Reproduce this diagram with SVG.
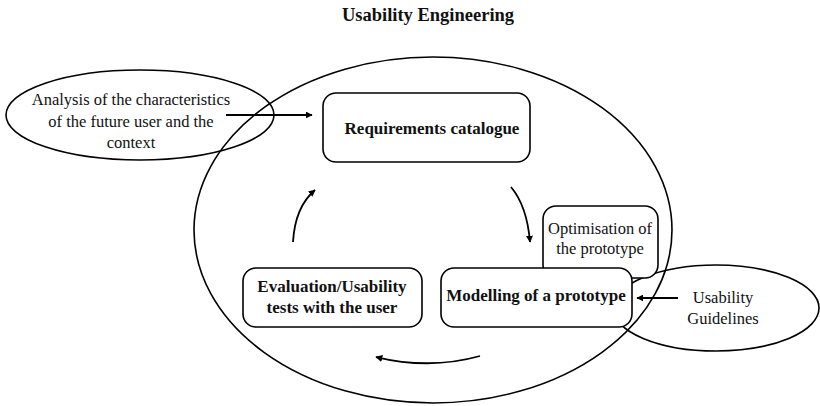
<svg xmlns="http://www.w3.org/2000/svg" width="820" height="406" viewBox="0 0 820 406">
  <style>
    .shape { fill: #ffffff; stroke: #000000; stroke-width: 1.6; }
    .outline { fill: none; stroke: #000000; stroke-width: 1.6; }
    .label { font-family: "Liberation Serif", "DejaVu Serif", serif; font-size: 16.5px; fill: #111111; text-anchor: middle; }
    .bold { font-weight: bold; font-size: 17px; }
    .link { fill: none; stroke: #000000; stroke-width: 1.8; }
  </style>
  <defs>
    <marker id="head" viewBox="0 0 10 10" refX="9" refY="5" markerWidth="7" markerHeight="7" markerUnits="userSpaceOnUse" orient="auto">
      <path d="M0,0 L10,5 L0,10 Z" fill="#000000"/>
    </marker>
    <clipPath id="overlap">
      <ellipse cx="140" cy="115" rx="134" ry="45"/>
    </clipPath>
    <clipPath id="overlap2">
      <ellipse cx="716" cy="308" rx="103" ry="43"/>
    </clipPath>
  </defs>

  <rect width="820" height="406" fill="#ffffff"/>

  <text class="label bold" x="428" y="21" style="font-size:18.5px">Usability Engineering</text>

  <!-- outer process ellipse -->
  <g id="usability-engineering">
    <ellipse class="outline" cx="433" cy="230" rx="239" ry="173"/>
  </g>

  <!-- user and context analysis -->
  <g id="analysis">
    <ellipse class="shape" cx="140" cy="115" rx="134" ry="45"/>
    <text class="label" x="131" y="105">Analysis of the characteristics</text>
    <text class="label" x="131" y="127">of the future user and the</text>
    <text class="label" x="131" y="148">context</text>
  </g>
  <!-- redraw the part of the outer ellipse that crosses the analysis ellipse -->
  <path class="outline" d="M194,230 A239,173 0 0 1 433,57" clip-path="url(#overlap)"/>

  <!-- usability guidelines -->
  <g id="guidelines">
    <ellipse class="shape" cx="716" cy="308" rx="103" ry="43"/>
    <text class="label" x="723" y="303">Usability</text>
    <text class="label" x="723" y="324">Guidelines</text>
  </g>
  <path class="outline" d="M672,230 A239,173 0 0 1 433,403" clip-path="url(#overlap2)"/>

  <g id="requirements">
    <rect class="shape" x="323" y="93" width="207" height="69" rx="13"/>
    <text class="label bold" x="432" y="134">Requirements catalogue</text>
  </g>

  <g id="optimisation">
    <rect class="shape" x="543" y="206" width="115" height="72" rx="13"/>
    <text class="label" x="600" y="234">Optimisation of</text>
    <text class="label" x="600" y="254">the prototype</text>
  </g>

  <g id="modelling">
    <rect class="shape" x="441" y="268" width="191" height="59" rx="13"/>
    <text class="label bold" x="536" y="301">Modelling of a prototype</text>
  </g>

  <g id="evaluation">
    <rect class="shape" x="243" y="268" width="179" height="59" rx="13"/>
    <text class="label bold" x="332" y="292">Evaluation/Usability</text>
    <text class="label bold" x="332" y="313">tests with the user</text>
  </g>

  <g id="connectors">
    <path class="link" d="M226,115 L312,115" marker-end="url(#head)"/>
    <path class="link" d="M678,298 L637,298" marker-end="url(#head)"/>
    <path class="link" d="M511,187 Q527,206 530,242" marker-end="url(#head)"/>
    <path class="link" d="M480,356 Q430,370 376,357" marker-end="url(#head)"/>
    <path class="link" d="M293,242 Q295,207 315,190" marker-end="url(#head)"/>
  </g>
</svg>
